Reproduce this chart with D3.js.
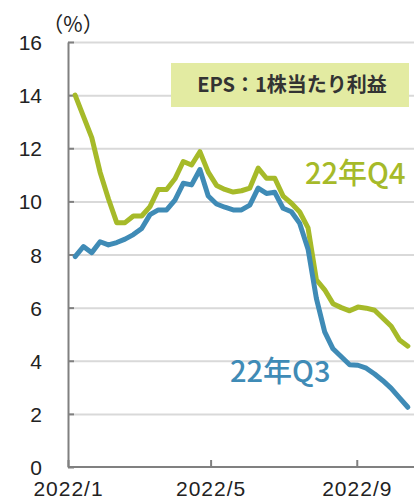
<!DOCTYPE html>
<html>
<head>
<meta charset="utf-8">
<script src="https://cdn.jsdelivr.net/npm/d3@7"></script>
<style>
  body { margin: 0; background: #fff; }
  svg { display: block; font-family: "Noto Sans CJK JP", "Noto Sans", sans-serif; }
  .grid line { stroke: #d9d9d9; stroke-width: 2; }
  .grid .domain { display: none; }
  .axis .domain, .axis line { stroke: #808080; stroke-width: 2; }
  .axis text { fill: #222; font-size: 21px; }
  .line { fill: none; stroke-width: 5; stroke-linejoin: round; stroke-linecap: round; }
</style>
</head>
<body>
<svg width="414" height="499"></svg>
<script>
// weekly observation dates
var dates = ["2022-01-07","2022-01-14","2022-01-21","2022-01-28","2022-02-04","2022-02-11","2022-02-18","2022-02-25",
  "2022-03-04","2022-03-11","2022-03-18","2022-03-25","2022-04-01","2022-04-08","2022-04-15","2022-04-22","2022-04-29",
  "2022-05-06","2022-05-13","2022-05-20","2022-05-27","2022-06-03","2022-06-10","2022-06-17","2022-06-24",
  "2022-07-01","2022-07-08","2022-07-15","2022-07-22","2022-07-29","2022-08-05","2022-08-12","2022-08-19","2022-08-26",
  "2022-09-02","2022-09-09","2022-09-16","2022-09-23","2022-09-30","2022-10-07","2022-10-14"];

// EPS growth forecast (%) for 22Q4
var q4 = [14.0, 13.2, 12.4, 11.1, 10.1, 9.2, 9.2, 9.45, 9.45, 9.8, 10.45, 10.45, 10.85, 11.5, 11.37, 11.87, 11.1,
  10.6, 10.45, 10.35, 10.4, 10.5, 11.25, 10.87, 10.87, 10.2, 9.93, 9.6, 9.0, 7.05, 6.67, 6.15, 6.0, 5.88, 6.02,
  5.98, 5.9, 5.6, 5.3, 4.78, 4.55];

// EPS growth forecast (%) for 22Q3
var q3 = [7.92, 8.3, 8.07, 8.48, 8.36, 8.45, 8.58, 8.75, 8.98, 9.5, 9.68, 9.68, 10.05, 10.68, 10.62, 11.2, 10.2,
  9.9, 9.78, 9.68, 9.68, 9.86, 10.5, 10.3, 10.34, 9.74, 9.61, 9.17, 8.2, 6.35, 5.09, 4.45, 4.15, 3.85, 3.83,
  3.72, 3.5, 3.25, 2.96, 2.6, 2.25];

var yTicks = [0, 2, 4, 6, 8, 10, 12, 14, 16];
var xTicks = ["2022-01-01", "2022-05-01", "2022-09-01"];
var xTickLabels = ["2022/1", "2022/5", "2022/9"];

var parseDate = d3.timeParse("%Y-%m-%d");

var svg = d3.select("svg");

var x = d3.scaleTime()
    .domain([parseDate("2022-01-01"), parseDate("2022-10-20")])
    .range([68, 415]);
var y = d3.scaleLinear().domain([0, 16]).range([467, 42]);

// horizontal gridlines
svg.append("g")
    .attr("class", "grid")
    .attr("transform", "translate(68,0)")
    .call(d3.axisRight(y).tickValues(yTicks.slice(1)).tickSize(346).tickFormat(""));

// y axis, ticks pointing inwards
var yAxis = svg.append("g")
    .attr("class", "axis")
    .attr("transform", "translate(68,0)")
    .call(d3.axisLeft(y).tickValues(yTicks).tickSizeInner(-6).tickSizeOuter(0).tickPadding(26));
yAxis.selectAll("text").attr("dy", "0.36em");

// x axis
var xAxis = svg.append("g")
    .attr("class", "axis")
    .attr("transform", "translate(0,467)")
    .call(d3.axisBottom(x)
        .tickValues(xTicks.map(parseDate))
        .tickSizeInner(-7).tickSizeOuter(0).tickPadding(14)
        .tickFormat(function(d, i) { return xTickLabels[i]; }));
xAxis.select(".domain").attr("d", "M68,0H415");
xAxis.selectAll("text").attr("letter-spacing", 1);

svg.append("text")
    .attr("x", 73).attr("y", 32)
    .attr("text-anchor", "middle")
    .attr("font-size", 21)
    .attr("fill", "#222")
    .text("（%）");

var line = d3.line()
    .x(function(d) { return x(d.date); })
    .y(function(d) { return y(d.value); });

var series = [
  {id: "22年Q4", values: q4, color: "#a6ba29", lx: 305, ly: 184},
  {id: "22年Q3", values: q3, color: "#3f8bb6", lx: 230, ly: 382}
];

series.forEach(function(s) {
  var pts = dates.map(function(d, i) { return {date: parseDate(d), value: s.values[i]}; });
  svg.append("path")
      .attr("class", "line")
      .attr("d", line(pts))
      .style("stroke", s.color);
  svg.append("text")
      .attr("x", s.lx).attr("y", s.ly)
      .attr("font-size", 29)
      .attr("font-weight", 500)
      .attr("fill", s.color)
      .text(s.id);
});

// caption box
svg.append("rect")
    .attr("x", 171).attr("y", 63)
    .attr("width", 238).attr("height", 44)
    .attr("fill", "#e3eba2");
svg.append("text")
    .attr("x", 292).attr("y", 92)
    .attr("text-anchor", "middle")
    .attr("font-size", 20)
    .attr("font-weight", "bold")
    .attr("fill", "#333")
    .text("EPS：1株当たり利益");
</script>
</body>
</html>
